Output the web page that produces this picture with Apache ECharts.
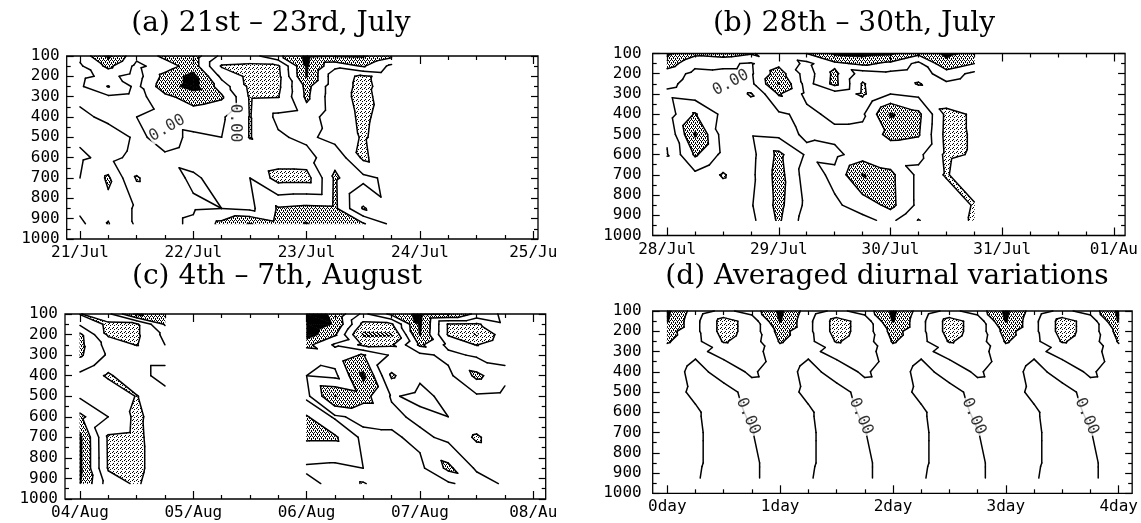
<!DOCTYPE html>
<html>
<head>
<meta charset="utf-8">
<script src="https://cdn.jsdelivr.net/npm/echarts@6/dist/echarts.min.js"></script>
<style>
  html, body { margin: 0; background: #fff; }
  #chart { width: 1141px; height: 523px; }
</style>
</head>
<body>
<div id="chart"></div>
<script>
// pressure levels (hPa) of the analysis grid
const levels = [100, 150, 200, 250, 300, 400, 500, 600, 700, 850, 925];

// (a) 21st - 23rd July, 6-hourly
const timesA = [21, 21.25, 21.5, 21.75, 22, 22.25, 22.5, 22.75, 23, 23.25, 23.5, 23.75];
const fieldA = [
  [-0.5, -4.5, -0.5, -2.5, -3.0, 0.5, 0.8, -1.5, -4.5, -4.2, -4.3, -2.5],
  [0.3, -2.5, 0.5, -1.0, -3.0, 2.2, 2.4, 2.3, -4.3, -0.5, -2.2, 0.5],
  [0.5, -0.5, 0.8, -2.6, -4.8, 0.5, 2.5, 2.5, -4.2, 1.3, 2.3, 1.3],
  [0.3, -2.1, 0.5, -3.2, -4.8, -1.0, 2.4, 2.4, -2.6, 1.3, 2.4, 1.2],
  [0.5, 0.3, 0.8, -1.5, -3.0, -2.3, 2.2, 2.1, -2.4, 1.3, 2.5, 1.0],
  [-0.5, 0.5, 0.0, -0.5, -0.8, -0.3, 2.1, -0.5, -1.0, 1.2, 2.3, 1.2],
  [-0.3, -1.0, 0.3, -0.5, 0.3, 0.0, 2.1, 0.3, -0.5, 0.8, 2.2, 1.0],
  [0.3, -0.5, 0.5, 0.2, 0.5, 0.3, 0.5, 1.0, 0.8, -1.5, 2.4, 0.3],
  [0.0, -2.3, 2.2, 0.5, -0.2, 0.5, 0.0, 2.8, 2.8, -2.3, -0.5, 0.5],
  [-0.5, -1.5, 0.3, 0.5, 0.2, 0.0, 0.5, -2.2, -2.5, -2.4, 2.2, 0.3],
  [0.5, -2.1, 0.3, 0.5, -0.3, -2.5, -4.2, -2.5, -4.2, -2.3, -2.2, 0.5]
];

// (b) 28th - 30th July
const timesB = [28, 28.25, 28.5, 28.75, 29, 29.25, 29.5, 29.75, 30, 30.25, 30.5, 30.75];
const fieldB = [
  [-4.5, -2.5, -3.0, -2.2, -1.0, -2.0, -4.5, -4.8, -4.5, -2.5, -4.5, -3.5],
  [-3.0, -0.5, -0.3, 0.2, -1.5, 0.5, -1.5, -2.5, -1.5, 0.5, -3.5, -2.0],
  [-1.0, 0.5, 0.3, 0.3, -3.0, 1.0, -2.5, 1.0, 0.5, 1.0, -1.0, 0.5],
  [-0.5, 0.8, 0.5, 0.5, -4.2, 0.8, -2.6, 2.2, 0.3, 2.2, 0.3, 1.0],
  [0.5, 1.0, 0.6, 2.2, -2.2, 0.5, 1.0, 2.3, 0.0, 0.5, 0.8, 1.0],
  [1.0, -2.2, 0.5, 0.8, 0.3, -0.5, 0.5, 0.3, -4.3, -2.5, 2.5, 1.8],
  [1.8, -4.3, 0.8, 0.2, 0.5, -0.2, -0.5, -0.5, -2.6, -2.2, 2.6, 1.8],
  [2.1, -2.3, 0.5, 0.6, -2.5, 0.3, 0.5, -1.0, -0.6, -0.5, 2.4, 1.8],
  [0.8, 0.5, 2.2, 0.5, -2.8, 1.0, -0.5, -4.2, -2.5, 0.5, 2.2, 0.3],
  [0.3, 0.0, 0.5, 0.2, -2.6, 0.5, 0.3, -0.8, -2.6, 0.5, 0.5, 2.2],
  [0.0, 0.5, 0.3, 0.5, -2.3, 1.0, 0.5, 0.5, -0.5, 2.1, 0.5, 2.4]
];

// (c) 4th - 7th August (no soundings on the 5th)
const timesC = [4, 4.25, 4.5, 4.75, 6, 6.25, 6.5, 6.75, 7, 7.25, 7.5, 7.75];
const fieldC = [
  [2.1, 0.5, -4.5, -2.5, -5.5, -3.5, 0.5, -2.5, -4.6, -4.2, -1.5, 0.5],
  [0.3, 2.4, 2.3, -2.2, -5.5, -3.8, 2.5, 2.3, -4.4, 2.2, 2.3, 0.3],
  [-2.4, 2.3, 2.3, -0.5, -5.2, -2.3, 4.5, 4.3, -4.2, 2.2, 4.2, 0.8],
  [-2.5, 0.8, 2.1, 0.0, -2.6, 0.3, 2.4, 2.3, -2.4, 0.5, 2.1, 0.3],
  [-2.3, 0.3, 0.5, 0.5, -0.5, -1.0, -2.2, 0.3, 0.5, -0.5, 0.3, 0.5],
  [0.5, 2.3, 0.5, -0.5, 0.0, 0.5, -4.5, 2.3, 0.3, 0.5, -2.5, -0.5],
  [0.3, 0.5, 2.1, 0.5, 0.5, -4.1, -2.8, 0.2, -0.5, 0.5, 0.3, 0.5],
  [-2.5, 0.0, 2.5, 0.5, -2.2, 0.3, -0.5, -0.5, 0.5, 0.0, 0.5, 0.3],
  [-4.5, 2.3, 2.6, 0.3, -2.3, -2.3, 0.5, 0.3, -0.5, 0.5, 2.3, 0.5],
  [-4.5, 2.2, 2.6, 0.5, 0.3, 0.5, 0.0, 0.5, 0.5, -2.5, 0.3, 0.5],
  [-4.2, 1.0, 2.3, 0.3, -0.5, 0.5, 2.2, 0.3, 0.5, 0.3, -1.0, 0.3]
];

// (d) averaged diurnal cycle at 00, 06, 12, 18 UTC, plotted over four days
const cycleHours = [0, 0.25, 0.5, 0.75];
const cycleD = [
  [-4.5, -1.0, 0.5, -0.8],
  [-4.2, -0.5, 2.8, 1.2],
  [-2.8, -0.5, 2.8, 1.2],
  [-2.2, -0.6, 2.2, 1.0],
  [-1.2, -0.3, 0.4, 0.8],
  [-0.8, 0.5, -0.6, 0.2],
  [-0.6, 0.3, 0.5, -0.5],
  [-0.6, -0.2, 0.8, -0.3],
  [-0.6, -0.3, 0.8, 0.05],
  [-0.8, -0.3, 0.8, 0.3],
  [-0.8, -0.2, 1.0, 0.3]
];
const timesD = [0, 0.25, 0.5, 0.75, 1, 1.25, 1.5, 1.75, 2, 2.25, 2.5, 2.75, 3, 3.25, 3.5, 3.75, 4];
const fieldD = cycleD.map(row => timesD.map((t, k) => row[k % cycleHours.length]));

// tick labels
const ticksA = [21, 22, 23, 24, 25], labelsA = ['21/Jul', '22/Jul', '23/Jul', '24/Jul', '25/Ju'];
const ticksB = [28, 29, 30, 31, 32], labelsB = ['28/Jul', '29/Jul', '30/Jul', '31/Jul', '01/Au'];
const ticksC = [4, 5, 6, 7, 8], labelsC = ['04/Aug', '05/Aug', '06/Aug', '07/Aug', '08/Au'];
const ticksD = [0, 1, 2, 3, 4], labelsD = ['0day', '1day', '2day', '3day', '4day'];

// contour labels: [time, pressure, rotation]
const contourText = '0.00';
const notesA = [[21.77, 455, 30], [22.37, 430, -90]];
const notesB = [[28.57, 245, 28]];
const notesC = [];
const notesD = [[0.715, 620, -67], [1.715, 620, -67], [2.715, 620, -67], [3.715, 620, -67]];

const lineLevels = [-2, 0, 2];

function tile(w, h, dots) {
  const cv = document.createElement('canvas');
  cv.width = w; cv.height = h;
  const ctx = cv.getContext('2d');
  ctx.fillStyle = '#000';
  dots.forEach(d => ctx.fillRect(d[0], d[1], 1, 1));
  return { image: cv, repeat: 'repeat' };
}
const lightDots = tile(4, 4, [[0, 0], [2, 1], [1, 3]]);
const denseDots = tile(4, 4, [[0, 0], [2, 0], [1, 1], [3, 2], [1, 2], [3, 3]]);
const hatching = tile(4, 4, [[0, 0], [1, 0], [1, 1], [2, 1], [2, 2], [3, 2], [3, 3], [0, 3], [3, 0], [1, 3]]);

const shades = [
  { c: -2, below: true, fill: denseDots, z2: 1 },
  { c: -4, below: true, fill: '#000', z2: 2 },
  { c: 2, below: false, fill: lightDots, z2: 1 },
  { c: 4, below: false, fill: hatching, z2: 2 }
];

function clip(pts, c, below) {
  const out = [];
  for (let k = 0; k < pts.length; k++) {
    const a = pts[k], b = pts[(k + 1) % pts.length];
    const ina = below ? a.v < c : a.v > c;
    const inb = below ? b.v < c : b.v > c;
    if (ina) out.push(a);
    if (ina !== inb) {
      const f = (c - a.v) / (b.v - a.v);
      out.push({ x: a.x + f * (b.x - a.x), y: a.y + f * (b.y - a.y), v: c });
    }
  }
  return out;
}

function cross(tri, c) {
  const hits = [];
  for (let k = 0; k < 3; k++) {
    const a = tri[k], b = tri[(k + 1) % 3];
    if ((a.v < c) !== (b.v < c)) {
      const f = (c - a.v) / (b.v - a.v);
      hits.push([a.x + f * (b.x - a.x), a.y + f * (b.y - a.y)]);
    }
  }
  return hits.length === 2 ? hits : null;
}

function renderCell(params, api) {
  const pt = (t, p, v) => { const xy = api.coord([t, p]); return { x: xy[0], y: xy[1], v: v }; };
  const a = pt(api.value(0), api.value(2), api.value(4));
  const b = pt(api.value(1), api.value(2), api.value(5));
  const d = pt(api.value(0), api.value(3), api.value(6));
  const e = pt(api.value(1), api.value(3), api.value(7));
  const children = [];
  [[a, b, e], [a, e, d]].forEach(tri => {
    shades.forEach(s => {
      const poly = clip(tri, s.c, s.below);
      if (poly.length >= 3) {
        children.push({
          type: 'polygon', z2: s.z2,
          shape: { points: poly.map(q => [q.x, q.y]) },
          style: { fill: s.fill, stroke: s.fill, lineWidth: 0.6 }
        });
      }
    });
    lineLevels.forEach(lv => {
      const seg = cross(tri, lv);
      if (seg) {
        children.push({
          type: 'line', z2: 10,
          shape: { x1: seg[0][0], y1: seg[0][1], x2: seg[1][0], y2: seg[1][1] },
          style: { stroke: '#000', lineWidth: 1.5, lineCap: 'round' }
        });
      }
    });
  });
  return { type: 'group', children: children };
}

function buildCells(times, field) {
  const cells = [];
  for (let j = 0; j < levels.length - 1; j++) {
    for (let i = 0; i < times.length - 1; i++) {
      if (times[i + 1] - times[i] > 0.3) continue;
      cells.push([times[i], times[i + 1], levels[j], levels[j + 1],
        field[j][i], field[j][i + 1], field[j + 1][i], field[j + 1][i + 1]]);
    }
  }
  return cells;
}

const panels = [
  { title: '(a) 21st \u2013 23rd, July', tx: 271, ty: 24, left: 66.7, top: 56, width: 471.3, height: 183,
    min: 20.883, max: 25.042, ticks: ticksA, labels: labelsA, times: timesA, field: fieldA, notes: notesA, ym: 7 },
  { title: '(b) 28th \u2013 30th, July', tx: 854, ty: 24, left: 652.7, top: 53.5, width: 479.3, height: 182,
    min: 27.871, max: 32.1, ticks: ticksB, labels: labelsB, times: timesB, field: fieldB, notes: notesB, ym: 11 },
  { title: '(c) 4th \u2013 7th, August', tx: 277, ty: 277, left: 65, top: 314, width: 480.7, height: 185,
    min: 3.868, max: 8.11, ticks: ticksC, labels: labelsC, times: timesC, field: fieldC, notes: notesC, ym: 7 },
  { title: '(d) Averaged diurnal variations', tx: 887, ty: 277, left: 652.7, top: 311, width: 479.6, height: 182.3,
    min: -0.129, max: 4.119, ticks: ticksD, labels: labelsD, times: timesD, field: fieldD, notes: notesD, ym: 11 }
];

const tickFont = { fontFamily: 'DejaVu Sans Mono', fontSize: 16, color: '#000' };
const tickLine = { color: '#000', width: 1.2 };

const option = { animation: false, grid: [], xAxis: [], yAxis: [], series: [], graphic: [] };

panels.forEach((p, g) => {
  option.grid.push({ left: p.left, top: p.top, width: p.width, height: p.height,
    show: true, borderColor: '#000', borderWidth: 1.3, backgroundColor: 'transparent' });

  const minor = [];
  for (let k = 0; k < p.ticks.length - 1; k++) {
    for (let q = 1; q < 4; q++) minor.push(p.ticks[k] + q / 4);
  }
  const base = { type: 'value', gridIndex: g, min: p.min, max: p.max,
    axisLine: { show: false, onZero: false }, splitLine: { show: false } };
  ['bottom', 'top'].forEach(pos => {
    option.xAxis.push({ ...base, position: pos,
      axisTick: { inside: true, length: 8, customValues: p.ticks, lineStyle: tickLine },
      axisLabel: pos === 'bottom'
        ? { ...tickFont, margin: 6, customValues: p.ticks, formatter: v => p.labels[Math.round(v - p.ticks[0])] }
        : { show: false } });
    option.xAxis.push({ ...base, position: pos,
      axisTick: { inside: true, length: 4, customValues: minor, lineStyle: tickLine },
      axisLabel: { show: false } });
  });

  ['left', 'right'].forEach(pos => {
    option.yAxis.push({ type: 'value', gridIndex: g, position: pos, inverse: true,
      min: 100, max: 1000, interval: 100,
      axisLine: { show: false, onZero: false }, splitLine: { show: false },
      axisTick: { inside: true, length: 7, lineStyle: tickLine },
      minorTick: { show: true, splitNumber: 2, length: 4, lineStyle: tickLine },
      axisLabel: pos === 'left' ? { ...tickFont, margin: p.ym, formatter: v => String(v) } : { show: false } });
  });

  option.series.push({
    type: 'custom', coordinateSystem: 'cartesian2d', xAxisIndex: g * 4, yAxisIndex: g * 2,
    data: buildCells(p.times, p.field), encode: { x: [0, 1], y: [2, 3] },
    renderItem: renderCell, silent: true
  });

  if (p.notes.length) {
    option.series.push({
      type: 'scatter', xAxisIndex: g * 4, yAxisIndex: g * 2, z: 4, silent: true,
      symbolSize: 1, itemStyle: { color: 'rgba(0,0,0,0)' },
      label: { show: true, position: 'inside', formatter: contourText,
        fontFamily: 'DejaVu Sans Mono', fontSize: 16, color: '#000',
        backgroundColor: '#fff', padding: [0, 1] },
      data: p.notes.map(n => ({ value: [n[0], n[1]], label: { rotate: n[2] } }))
    });
  }

  option.graphic.push({ type: 'text', x: p.tx, y: p.ty,
    style: { text: p.title, font: '28px "DejaVu Serif"', fill: '#000',
      align: 'center', verticalAlign: 'middle', textAlign: 'center', textVerticalAlign: 'middle' } });
});

const chart = echarts.init(document.getElementById('chart'));
chart.setOption(option);
</script>
</body>
</html>
